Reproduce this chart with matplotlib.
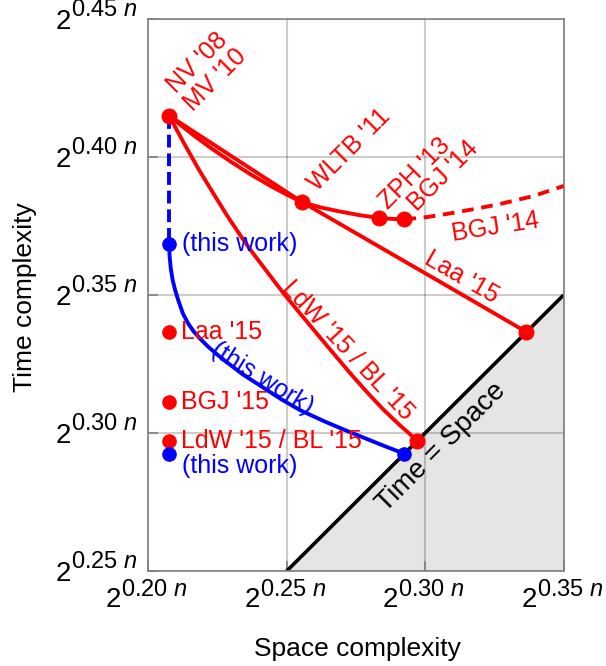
import matplotlib
matplotlib.use('Agg')
import matplotlib.pyplot as plt
from matplotlib.transforms import offset_copy

plt.rcParams['font.family'] = 'Liberation Sans'
plt.rcParams['mathtext.fontset'] = 'custom'
plt.rcParams['mathtext.rm'] = 'Liberation Sans'
plt.rcParams['mathtext.it'] = 'Liberation Sans:italic'

RED = '#ff0000'
BLUE = '#0000ff'

# exponents c of 2^(c n)
xticks = [0.20, 0.25, 0.30, 0.35]
yticks = [0.25, 0.30, 0.35, 0.40, 0.45]

# (space, time) exponents of the known algorithms
nv_mv = (0.2075, 0.4150)
wltb = (0.2557, 0.3836)
zph = (0.2833, 0.3778)
bgj14 = (0.2925, 0.3774)
laa15 = (0.3366, 0.3366)
ldw15 = (0.2972, 0.2972)
ours_min = (0.2925, 0.2925)
ours_top = (0.2075, 0.3685)

# time at minimal space (left column)
left_x = 0.2075
left_red_y = [0.3366, 0.3112, 0.2972]
left_red_labels = ["Laa '15", "BGJ '15", "LdW '15 / BL '15"]
left_blue_y = 0.2925

# trade-off curves
wltb_curve_x = [0.2075, 0.2120, 0.2170, 0.2230, 0.2300, 0.2370, 0.2440, 0.2500, 0.2557,
                0.2620, 0.2690, 0.2760, 0.2833, 0.2880, 0.2925]
wltb_curve_y = [0.4150, 0.4113, 0.4074, 0.4030, 0.3982, 0.3937, 0.3896, 0.3864, 0.3836,
                0.3818, 0.3803, 0.3790, 0.3779, 0.3776, 0.3774]

bgj_dash_x = [0.2925, 0.3010, 0.3091, 0.3180, 0.3271, 0.3392, 0.3500]
bgj_dash_y = [0.3774, 0.3783, 0.3796, 0.3812, 0.3830, 0.3859, 0.3895]

laa_curve_x = [0.2075, 0.2557, 0.2800, 0.3100, 0.3366]
laa_curve_y = [0.4150, 0.3836, 0.3695, 0.3521, 0.3366]

ldw_curve_x = [0.2075, 0.2130, 0.2184, 0.2240, 0.2289, 0.2330, 0.2368, 0.2430, 0.2488,
               0.2550, 0.2609, 0.2670, 0.2729, 0.2790, 0.2850, 0.2910, 0.2972]
ldw_curve_y = [0.4150, 0.4048, 0.3952, 0.3860, 0.3781, 0.3720, 0.3665, 0.3583, 0.3507,
               0.3431, 0.3360, 0.3287, 0.3217, 0.3148, 0.3084, 0.3027, 0.2972]

ours_x = [0.2075, 0.2077, 0.2081, 0.2088, 0.2097, 0.2108, 0.2125, 0.2144, 0.2164, 0.2187,
          0.2216, 0.2247, 0.2283, 0.2342, 0.2404, 0.2476, 0.2548, 0.2639, 0.2729, 0.2850, 0.2925]
ours_y = [0.3685, 0.3641, 0.3598, 0.3554, 0.3518, 0.3482, 0.3433, 0.3397, 0.3368, 0.3342,
          0.3313, 0.3286, 0.3257, 0.3212, 0.3172, 0.3125, 0.3083, 0.3041, 0.3003, 0.2954, 0.2925]

fig = plt.figure(figsize=(6.06, 6.66), dpi=100)
ax = fig.add_axes([0.2447, 0.1426, 0.6853, 0.8288])

lw = 2.8
# time = space region
ax.fill_between([0.25, 0.35], [0.25, 0.35], 0.25, color='#e5e5e5', zorder=0.3, lw=0)
ax.plot([0.25, 0.35], [0.25, 0.35], color='black', lw=2.6, zorder=2, solid_capstyle='butt')

ax.plot(wltb_curve_x, wltb_curve_y, color=RED, lw=lw, zorder=3)
ax.plot(bgj_dash_x, bgj_dash_y, color=RED, lw=lw, ls=(0, (3, 2)), zorder=3)
ax.plot(laa_curve_x, laa_curve_y, color=RED, lw=lw, zorder=3)
ax.plot(ldw_curve_x, ldw_curve_y, color=RED, lw=lw, zorder=3)

ax.plot([nv_mv[0], ours_top[0]], [nv_mv[1], ours_top[1]], color=BLUE, lw=lw, ls=(0, (3.3, 1.5)), zorder=3)
ax.plot(ours_x, ours_y, color=BLUE, lw=lw, zorder=3)

for p in [nv_mv, wltb, zph, bgj14, laa15, ldw15]:
    ax.plot(p[0], p[1], 'o', color=RED, ms=10.5, zorder=5)
for p in [ours_top, ours_min]:
    ax.plot(p[0], p[1], 'o', color=BLUE, ms=9.5, zorder=5)

fs = 18
for yv, lab in zip(left_red_y, left_red_labels):
    ax.plot(left_x, yv, 'o', color=RED, ms=9.5, zorder=5)
    ax.text(0.2119, yv, lab, color=RED, fontsize=fs, va='center', ha='left')
ax.plot(left_x, left_blue_y, 'o', color=BLUE, ms=9.5, zorder=5)
ax.text(0.2122, 0.2880, '(this work)', color=BLUE, fontsize=fs, va='center', ha='left')
ax.text(0.2122, ours_top[1], '(this work)', color=BLUE, fontsize=fs, va='center', ha='left')

ax.text(0.2100, 0.4228, "NV '08", color=RED, fontsize=fs, rotation=45, rotation_mode='anchor')
ax.text(0.2163, 0.4164, "MV '10", color=RED, fontsize=fs, rotation=45, rotation_mode='anchor')
ax.text(0.2610, 0.3874, "WLTB '11", color=RED, fontsize=fs, rotation=45, rotation_mode='anchor')
ax.text(0.2866, 0.3808, "ZPH '13", color=RED, fontsize=fs, rotation=45, rotation_mode='anchor')
ax.text(0.2970, 0.3802, "BGJ '14", color=RED, fontsize=fs, rotation=45, rotation_mode='anchor')
ax.text(0.3100, 0.3696, "BGJ '14", color=RED, fontsize=fs, rotation=9, rotation_mode='anchor')
ax.text(0.3133, 0.3563, "Laa '15", color=RED, fontsize=fs, rotation=-30, rotation_mode='anchor',
        ha='center', va='center')
ax.text(0.2720, 0.3301, "LdW '15 / BL '15", color=RED, fontsize=fs, rotation=-47, rotation_mode='anchor',
        ha='center', va='center')
ax.text(0.2413, 0.3199, "(this work)", color=BLUE, fontsize=fs, rotation=-32, rotation_mode='anchor',
        ha='center', va='center')
ax.text(0.3057, 0.2948, "Time = Space", color='black', fontsize=20, rotation=45, rotation_mode='anchor',
        ha='center', va='center')

ax.set_xlim(0.20, 0.35)
ax.set_ylim(0.25, 0.45)
ax.set_xticks(xticks)
ax.set_yticks(yticks)
ax.set_xticklabels([])
ax.set_yticklabels([])
ax.tick_params(direction='in', length=7, width=1.2, color='#808080')
ax.grid(True, color='black', alpha=0.2, lw=1.5, zorder=0.5)
ax.set_axisbelow(True)
for s in ax.spines.values():
    s.set_color('#808080')
    s.set_linewidth(1.2)

# tick labels 2^{c n}: big base, large exponent
ytr = ax.get_yaxis_transform()
for v in yticks:
    ax.text(0, v, '2', fontsize=20, ha='right', va='baseline', clip_on=False,
            transform=offset_copy(ytr, fig=fig, x=-77, y=-10, units='dots'))
    ax.text(0, v, '%.2f $n$' % v, fontsize=17, ha='left', va='baseline', clip_on=False,
            transform=offset_copy(ytr, fig=fig, x=-77, y=3, units='dots'))
xtr = ax.get_xaxis_transform()
for v in xticks:
    ax.text(v, 0, '2', fontsize=20, ha='right', va='baseline', clip_on=False,
            transform=offset_copy(xtr, fig=fig, x=-27, y=-36, units='dots'))
    ax.text(v, 0, '%.2f $n$' % v, fontsize=17, ha='left', va='baseline', clip_on=False,
            transform=offset_copy(xtr, fig=fig, x=-27, y=-25, units='dots'))

fig.text(31.7 / 606, 1 - 297 / 666, 'Time complexity', fontsize=19, rotation=90,
         rotation_mode='anchor', ha='center', va='baseline')
fig.text(357 / 606, 1 - 656 / 666, 'Space complexity', fontsize=19, ha='center', va='baseline')

fig.savefig('out.png', dpi=100)
